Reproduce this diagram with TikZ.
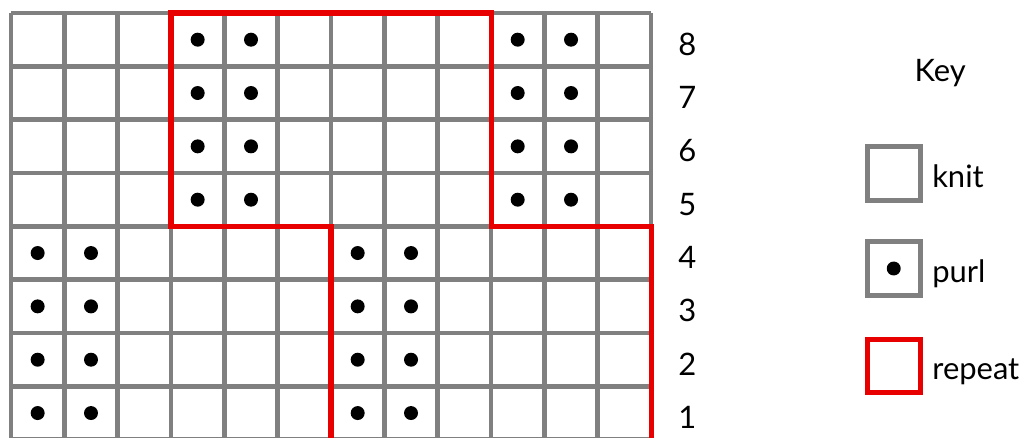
\documentclass[tikz,border=0pt]{standalone}
\usepackage{fontspec}
\setmainfont{Lato}
\usetikzlibrary{positioning}
\definecolor{gridgray}{RGB}{128,128,128}
\definecolor{repeatred}{RGB}{232,0,0}

\begin{document}
\begin{tikzpicture}[
        gridline/.style={draw=gridgray, line width=2.6pt},
        repeatline/.style={draw=repeatred, line width=2.7pt, line join=miter},
        stitch/.style={fill=black},
        keybox/.style={rectangle, draw=gridgray, line width=2.6pt, minimum size=1cm, inner sep=0pt},
        repbox/.style={rectangle, draw=repeatred, line width=2.7pt, minimum size=1cm, inner sep=0pt},
        keylabel/.style={font=\fontsize{16.5}{19}\selectfont, anchor=base west, inner sep=0pt},
        rownum/.style={font=\fontsize{16.5}{19}\selectfont, anchor=base, inner sep=0pt},
      ]
      \useasboundingbox (-0.206,0.244) rectangle (19.03,-7.95);
      % Chart grid
      \draw [gridline] (0,0) grid (12,-8);
      % Purl stitches, rows 5-8
      \foreach \r in {0,...,3}
        \foreach \c in {3,4,9,10}
          \fill [stitch] (\c+0.5,-\r-0.5) circle (0.131);
      % Purl stitches, rows 1-4
      \foreach \r in {4,...,7}
        \foreach \c in {0,1,6,7}
          \fill [stitch] (\c+0.5,-\r-0.5) circle (0.131);
      % Repeat outline
      \draw [repeatline] (6,-8.3) -- (6,-4) -- (3,-4) -- (3,0) -- (9,0) -- (9,-4) -- (12,-4) -- (12,-8.3);
      % Row numbers
      \foreach \n in {1,...,8}
        \node [rownum] (row\n) at (12.68,\n-8.79) {\n};
      % Key
      \node [rownum] (key) at (17.42,-1.29) {Key};
      \node [keybox] (knitbox) at (16.55,-3.01) {};
      \node [keylabel] (knit) at ([xshift=0.17cm, yshift=-0.26cm]knitbox.east) {knit};
      \node [keybox] (purlbox) at (16.55,-4.79) {};
      \fill [stitch] (purlbox.center) circle (0.131);
      \node [keylabel] (purl) at ([xshift=0.17cm, yshift=-0.26cm]purlbox.east) {purl};
      \node [repbox] (repbox) at (16.55,-6.615) {};
      \node [keylabel] (repeat) at ([xshift=0.17cm, yshift=-0.26cm]repbox.east) {repeat};
    \end{tikzpicture}
\end{document}
